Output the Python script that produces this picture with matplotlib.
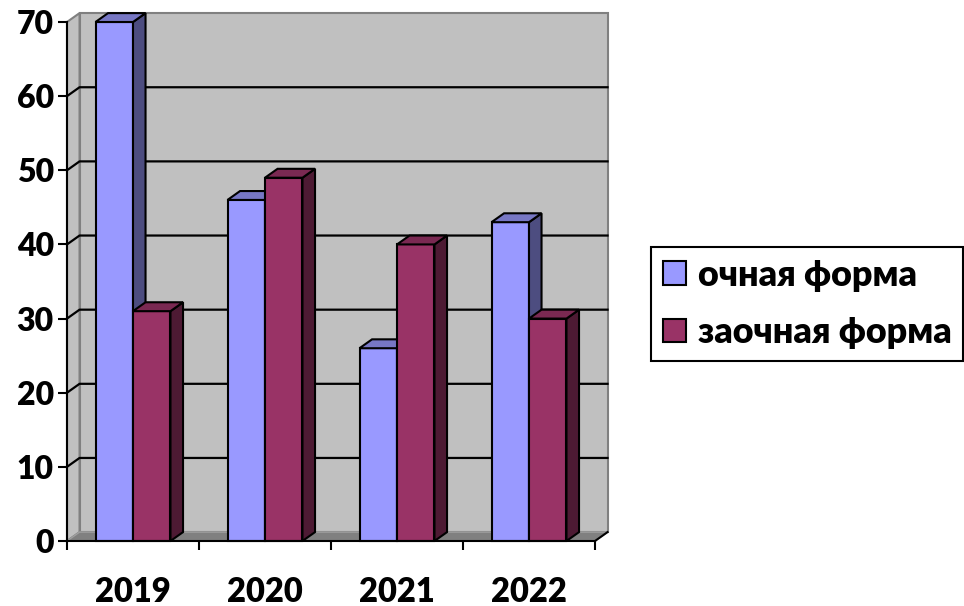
import matplotlib
matplotlib.use("Agg")
import matplotlib.pyplot as plt
from matplotlib.patches import Polygon, Patch

plt.rcParams['font.family'] = ['Lato', 'DejaVu Sans']
plt.rcParams['font.weight'] = 'heavy'

# data
years = ['2019', '2020', '2021', '2022']
full_time = [70, 46, 26, 43]      # очная форма
part_time = [31, 49, 40, 30]      # заочная форма
series_names = ['очная форма', 'заочная форма']

# colours: front, top, side
blue = ('#9999FF', '#7777C4', '#4D4D80')
red = ('#993366', '#7A2952', '#4D1A33')
wall_c = '#C0C0C0'
floor_c = '#808080'

ymax = 70
n = len(years)
dx, dy = 0.095, 1.2        # 3-D depth offset in data units
bar_w = 0.284
gap = (1 - 2 * bar_w) / 2

fig = plt.figure(figsize=(9.64, 6.06), dpi=100)
ax = fig.add_axes([67 / 964, 65 / 606, 528 / 964, 519 / 606])
ax.set_xlim(0, n)
ax.set_ylim(0, ymax)
ax.patch.set_visible(False)


def poly(pts, fc, ec, lw, z):
    ax.add_patch(Polygon(pts, closed=True, facecolor=fc, edgecolor=ec,
                         linewidth=lw, zorder=z, clip_on=False,
                         joinstyle='miter'))


# walls and floor
poly([(dx, dy), (n + dx, dy), (n + dx, ymax + dy), (dx, ymax + dy)],
     wall_c, '#808080', 1.5, 0)
poly([(0, 0), (dx, dy), (dx, ymax + dy), (0, ymax)], wall_c, '#808080', 1.5, 0)
poly([(0, 0), (n, 0), (n + dx, dy), (dx, dy)], floor_c, '#A0A0A0', 1.0, 0.5)

# gridlines on back wall and side wall
for v in range(10, ymax, 10):
    ax.plot([0, dx, n + dx], [v, v + dy, v + dy], color='black', lw=1.6,
            zorder=1, clip_on=False)

ax.plot([n, n + dx], [0, dy], color='black', lw=1.5, zorder=1, clip_on=False)


def bar(x0, h, cols):
    f, t, s = cols
    poly([(x0, 0), (x0 + bar_w, 0), (x0 + bar_w, h), (x0, h)], f, 'black', 1.5, 3)
    poly([(x0 + bar_w, 0), (x0 + bar_w + dx, dy), (x0 + bar_w + dx, h + dy),
          (x0 + bar_w, h)], s, 'black', 1.5, 3)
    poly([(x0, h), (x0 + bar_w, h), (x0 + bar_w + dx, h + dy), (x0 + dx, h + dy)],
         t, 'black', 1.5, 3)


for i in range(n):
    bar(i + gap, full_time[i], blue)
    bar(i + gap + bar_w, part_time[i], red)

# axes
for side in ('top', 'right'):
    ax.spines[side].set_visible(False)
for side in ('left', 'bottom'):
    ax.spines[side].set_linewidth(1.5)
    ax.spines[side].set_zorder(4)

ax.set_yticks(range(0, ymax + 1, 10))
ax.tick_params(axis='y', direction='out', length=6.5, width=1.5,
               labelsize=23, pad=3)
ax.set_xticks(range(0, n + 1))
ax.set_xticklabels([])
ax.set_xticks([i + 0.5 for i in range(n)], minor=True)
ax.set_xticklabels(years, minor=True)
ax.tick_params(axis='x', which='major', direction='out', length=6.5, width=1.5)
ax.tick_params(axis='x', which='minor', length=0, labelsize=23.5, pad=25)

handles = [Patch(facecolor=blue[0], edgecolor='black', linewidth=1.5),
           Patch(facecolor=red[0], edgecolor='black', linewidth=1.5)]
leg = fig.legend(handles, series_names, loc='upper left',
                 bbox_to_anchor=(651 / 964, 1 - 247 / 606), borderaxespad=0,
                 fontsize=25.8, handlelength=0.64, handleheight=0.64,
                 handletextpad=0.33, borderpad=0.33, labelspacing=0.68,
                 fancybox=False, framealpha=1)
leg.get_frame().set_edgecolor('black')
leg.get_frame().set_linewidth(1.5)

fig.savefig('out.png', dpi=100)
